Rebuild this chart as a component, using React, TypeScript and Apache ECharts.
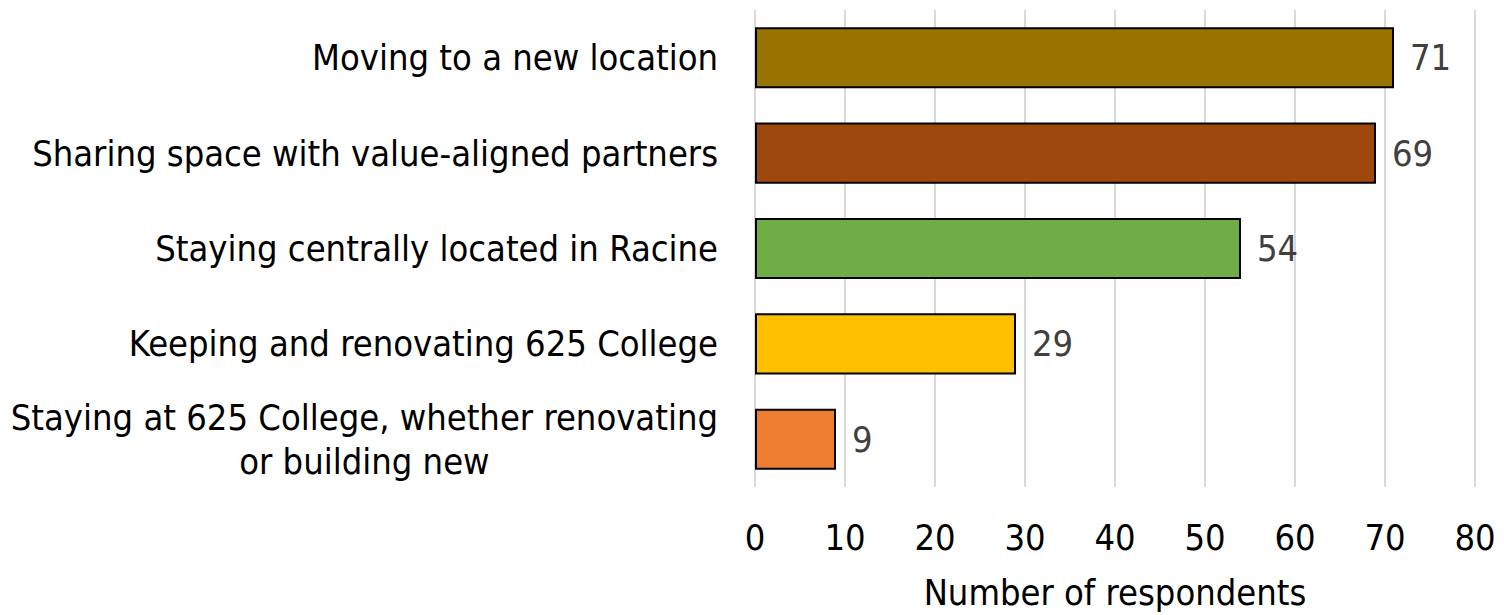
import React, { useEffect, useRef } from "react";
import * as echarts from "echarts";

const categories = [
  "Moving to a new location",
  "Sharing space with value-aligned partners",
  "Staying centrally located in Racine",
  "Keeping and renovating 625 College",
  "Staying at 625 College, whether renovating\nor building new",
];
const values = [71, 69, 54, 29, 9];
const barColors = ["#977300", "#9e480e", "#70ad47", "#ffc000", "#ed7d31"];
const axisMin = 0;
const axisMax = 80;
const axisInterval = 10;
const axisName = "Number of respondents";

const FONT = "'DejaVu Sans Condensed', 'DejaVu Sans', sans-serif";

export default function App() {
  const ref = useRef<HTMLDivElement>(null);
  useEffect(() => {
    if (!ref.current) return;
    const chart = echarts.init(ref.current, undefined, { renderer: "svg" });
    chart.setOption({
      animation: false,
      grid: { left: 755, right: 29, top: 10, bottom: 123, containLabel: false },
      xAxis: {
        type: "value",
        min: axisMin,
        max: axisMax,
        interval: axisInterval,
        name: axisName,
        nameLocation: "middle",
        nameGap: 87,
        nameTextStyle: { fontFamily: FONT, fontSize: 36, color: "#000" },
        axisLine: { show: false },
        axisTick: { show: false },
        axisLabel: { fontFamily: FONT, fontSize: 36, color: "#000", margin: 32 },
        splitLine: { show: true, lineStyle: { color: "#d9d9d9", width: 2 } },
      },
      yAxis: {
        type: "category",
        inverse: true,
        data: categories,
        axisLine: { show: false },
        axisTick: { show: false },
        axisLabel: {
          margin: 37,
          formatter: (v: string) =>
            v
              .split("\n")
              .map((s) => `{c|${s}}`)
              .join("\n"),
          rich: {
            c: {
              align: "center",
              fontFamily: FONT,
              fontSize: 36,
              lineHeight: 44,
              color: "#000",
            },
          },
        },
      },
      series: [
        {
          type: "bar",
          barCategoryGap: "36%",
          data: values.map((v, i) => ({
            value: v,
            itemStyle: { color: barColors[i] },
          })),
          itemStyle: { borderColor: "#000", borderWidth: 2 },
          label: {
            show: true,
            position: "right",
            distance: 16,
            fontFamily: FONT,
            fontSize: 36,
            color: "#404040",
          },
        },
      ],
    });
    return () => chart.dispose();
  }, []);
  return (
    <div
      ref={ref}
      style={{ position: "fixed", left: 0, top: 0, width: 1504, height: 615, background: "#fff" }}
    />
  );
}
